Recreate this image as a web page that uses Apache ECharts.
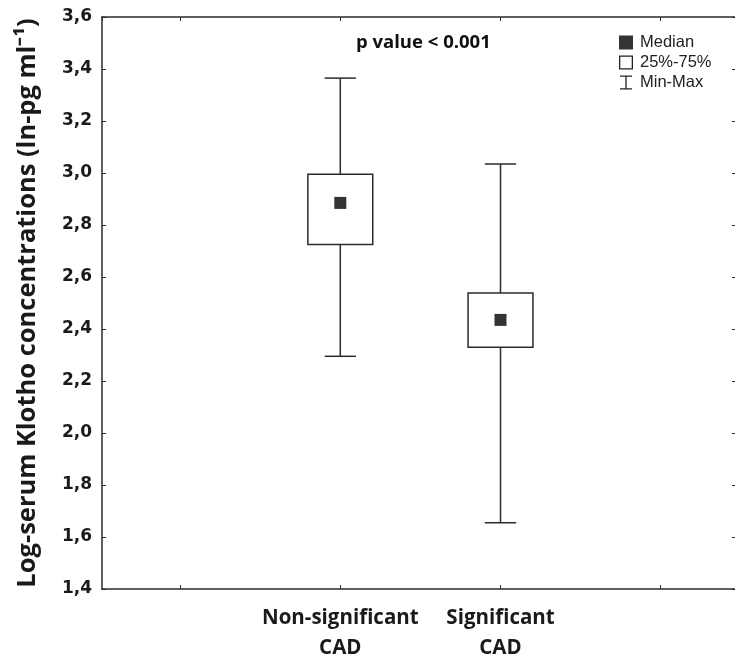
<!DOCTYPE html>
<html>
<head>
<meta charset="utf-8">
<script src="https://cdn.jsdelivr.net/npm/echarts@6/dist/echarts.min.js"></script>
<style>
  html, body { margin: 0; padding: 0; background: #fff; }
  #chart { width: 735px; height: 657px; }
</style>
</head>
<body>
<div id="chart"></div>
<script>
// groups, placed at x = 1 and x = 2
const categories = ['Non-significant\nCAD', 'Significant\nCAD'];
const positions = [1, 2];
const mins = [2.295, 1.655];
const q1s = [2.725, 2.33];
const medians = [2.885, 2.435];
const q3s = [2.995, 2.538];
const maxs = [3.365, 3.035];
const yTicks = [1.4, 1.6, 1.8, 2.0, 2.2, 2.4, 2.6, 2.8, 3.0, 3.2, 3.4, 3.6];

const boxRows = positions.map((p, i) => [p, mins[i], q1s[i], medians[i], q3s[i], maxs[i]]);
const medianPoints = positions.map((p, i) => [p, medians[i]]);

const lineColor = '#2b2b2b';

const chart = echarts.init(document.getElementById('chart'));

const option = {
  backgroundColor: '#fff',
  animation: false,
  grid: { left: 102, top: 17, right: -1, bottom: 68, outerBoundsMode: 'none', containLabel: false },
  graphic: [{
    type: 'text',
    left: 356,
    top: 33,
    style: {
      text: 'p value < 0.001',
      font: 'bold 18.5px "Open Sans"',
      fill: '#111'
    }
  }],
  legend: {
    orient: 'vertical',
    left: 614,
    top: 29,
    itemWidth: 14,
    itemHeight: 14,
    itemGap: 3,
    selectedMode: false,
    textStyle: { fontFamily: 'Liberation Sans', fontSize: 16.5, lineHeight: 14, color: '#222', padding: [0, 0, 0, 2] },
    data: [
      { name: 'Median', icon: 'path://M3,2H13V12H3Z', itemStyle: { color: '#000' } },
      { name: '25%-75%', icon: 'path://M0,0H14V14H0Z M1.3,1.3V12.7H12.7V1.3Z', itemStyle: { color: '#222' } },
      { name: 'Min-Max', icon: 'path://M1,0H13V1.3H1Z M6.35,1.3H7.65V12.7H6.35Z M1,12.7H13V14H1Z', itemStyle: { color: '#222' } }
    ]
  },
  xAxis: [{
    type: 'value',
    min: -0.4875,
    max: 3.47,
    splitNumber: 4,
    axisLine: { show: true, onZero: false, lineStyle: { color: lineColor, width: 1.5 } },
    axisTick: { show: true, inside: true, length: 4, lineStyle: { color: lineColor } },
    splitLine: { show: false },
    axisLabel: {
      margin: 14,
      fontFamily: 'Open Sans',
      fontWeight: 'bold',
      fontSize: 20.5,
      lineHeight: 30,
      color: '#1a1a1a',
      showMinLabel: false,
      showMaxLabel: false,
      formatter: function (v) {
        const i = positions.indexOf(Math.round(v * 1000) / 1000);
        return i >= 0 ? categories[i] : '';
      }
    }
  }, {
    type: 'value',
    position: 'top',
    min: -0.4875,
    max: 3.47,
    splitNumber: 4,
    axisLine: { show: true, onZero: false, lineStyle: { color: lineColor, width: 1.5 } },
    axisTick: { show: true, inside: true, length: 4, lineStyle: { color: lineColor } },
    splitLine: { show: false },
    axisLabel: { show: false }
  }],
  yAxis: [{
    type: 'value',
    min: 1.4,
    max: 3.6,
    interval: 0.2,
    name: 'Log-serum Klotho concentrations (ln-pg ml\u207B\u00B9)',
    nameLocation: 'middle',
    nameGap: 61,
    nameTextStyle: { fontFamily: 'Open Sans', fontWeight: 'bold', fontSize: 25.5, color: '#1a1a1a' },
    axisLine: { show: true, onZero: false, lineStyle: { color: lineColor, width: 1.5 } },
    axisTick: { show: true, inside: true, length: 4, lineStyle: { color: lineColor } },
    splitLine: { show: false },
    axisLabel: {
      margin: 10,
      fontFamily: 'DejaVu Sans',
      fontWeight: 'bold',
      fontSize: 17,
      color: '#1a1a1a',
      formatter: function (v) {
        const t = yTicks.find(t => Math.abs(t - v) < 1e-6);
        return t !== undefined ? t.toFixed(1).replace('.', ',') : '';
      }
    }
  }, {
    type: 'value',
    position: 'right',
    min: 1.4,
    max: 3.6,
    interval: 0.2,
    axisLine: { show: true, onZero: false, lineStyle: { color: lineColor, width: 1.5 } },
    axisTick: { show: true, inside: true, length: 4, lineStyle: { color: lineColor } },
    splitLine: { show: false },
    axisLabel: { show: false }
  }],
  series: [
    {
      name: 'Min-Max',
      type: 'custom',
      color: '#222',
      data: boxRows,
      renderItem: function (params, api) {
        const x = api.value(0);
        const lo = api.coord([x, api.value(1)]);
        const hi = api.coord([x, api.value(5)]);
        const capW = api.size([0.195, 0])[0];
        const style = { stroke: lineColor, lineWidth: 1.5 };
        return {
          type: 'group',
          children: [
            { type: 'line', shape: { x1: lo[0], y1: lo[1], x2: hi[0], y2: hi[1] }, style: style },
            { type: 'line', shape: { x1: lo[0] - capW / 2, y1: lo[1], x2: lo[0] + capW / 2, y2: lo[1] }, style: style },
            { type: 'line', shape: { x1: hi[0] - capW / 2, y1: hi[1], x2: hi[0] + capW / 2, y2: hi[1] }, style: style }
          ]
        };
      }
    },
    {
      name: '25%-75%',
      type: 'custom',
      color: '#222',
      data: boxRows,
      renderItem: function (params, api) {
        const x = api.value(0);
        const top = api.coord([x, api.value(4)]);
        const bot = api.coord([x, api.value(2)]);
        const w = api.size([0.405, 0])[0];
        return {
          type: 'rect',
          shape: { x: top[0] - w / 2, y: top[1], width: w, height: bot[1] - top[1] },
          style: { fill: '#fff', stroke: lineColor, lineWidth: 1.5 }
        };
      }
    },
    {
      name: 'Median',
      type: 'scatter',
      symbol: 'rect',
      symbolSize: 12,
      itemStyle: { color: '#000' },
      data: medianPoints
    }
  ]
};

chart.setOption(option);
</script>
</body>
</html>
